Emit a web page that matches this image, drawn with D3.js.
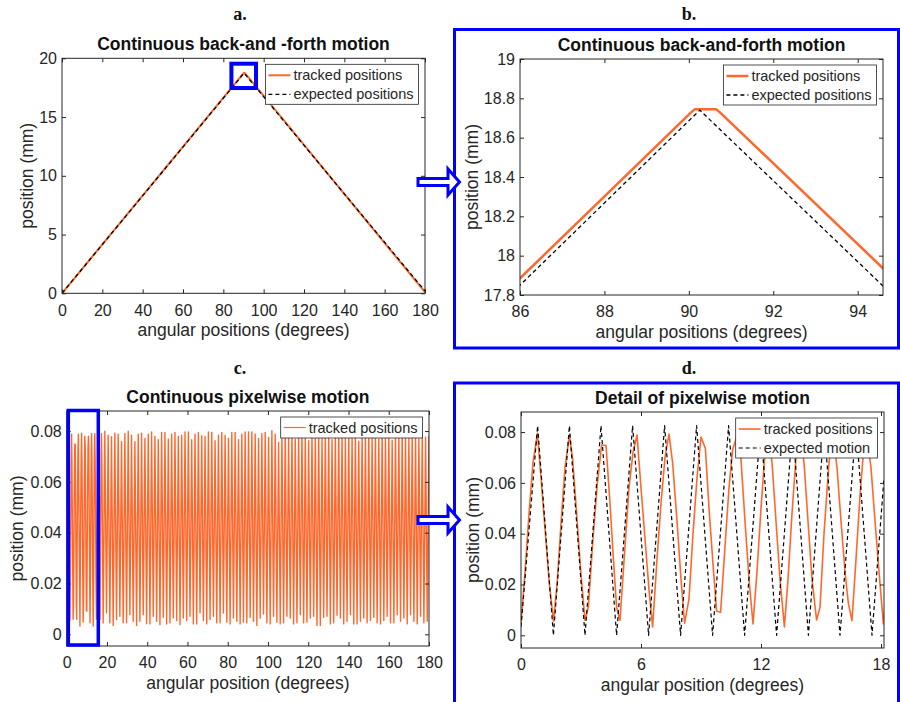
<!DOCTYPE html>
<html>
<head>
<meta charset="utf-8">
<script src="https://cdn.jsdelivr.net/npm/d3@7"></script>
<style>
  body { margin: 0; background: #fff; }
</style>
</head>
<body>
<svg id="fig" width="900" height="702"></svg>
<script>
// ---- data ----

// panel a / b : back-and-forth motion (degrees, mm)
const abExpDeg = [0, 86, 90.26, 94.6, 180];
const abExpPos = [0, 17.85, 18.74, 17.846, 0.2];
const abTrackDeg = [0, 86, 90.06, 90.14, 90.65, 90.73, 94.6, 180];
const abTrackPos = [0, 17.885, 18.73, 18.744, 18.744, 18.73, 17.936, 0.1];

// panel d : detail of tracked + expected pixelwise motion
const dTrackDeg = [0, 0.2, 0.42, 0.6, 0.82, 1.0, 1.2, 1.42, 1.63, 1.8, 2.0, 2.2, 2.42, 2.58, 2.8, 3.0, 3.2, 3.37,
  3.6, 3.82, 4.03, 4.25, 4.45, 4.62, 4.78, 4.95, 5.2, 5.4, 5.6, 5.8, 6.0, 6.2, 6.4, 6.58, 6.8, 7.0, 7.2, 7.4, 7.58,
  7.8, 8.0, 8.18, 8.4, 8.6, 8.8, 9.0, 9.22, 9.4, 9.6, 9.78, 9.98, 10.2, 10.4, 10.58, 10.78, 10.95, 11.2, 11.4, 11.6,
  11.8, 12.0, 12.2, 12.37, 12.55, 12.75, 12.95, 13.17, 13.35, 13.55, 13.75, 13.95, 14.15, 14.35, 14.55, 14.78, 14.95,
  15.15, 15.4, 15.6, 15.8, 16.0, 16.2, 16.37, 16.55, 16.75, 16.95, 17.1, 17.28, 17.5, 17.7, 17.9, 18.12];
const dTrackPos = [0.0046, 0.025, 0.05, 0.068, 0.0795, 0.062, 0.042, 0.02, 0.0055, 0.02, 0.044, 0.066, 0.0788, 0.0696,
  0.046, 0.024, 0.0059, 0.0112, 0.038, 0.06, 0.0749, 0.0747, 0.052, 0.03, 0.011, 0.0059, 0.035, 0.058, 0.072, 0.0788,
  0.058, 0.038, 0.018, 0.0033, 0.03, 0.052, 0.07, 0.0792, 0.068, 0.045, 0.022, 0.0048, 0.0143, 0.04, 0.062, 0.078,
  0.0735, 0.05, 0.028, 0.0095, 0.0091, 0.035, 0.058, 0.073, 0.078, 0.075, 0.045, 0.022, 0.0045, 0.025, 0.05, 0.072,
  0.079, 0.068, 0.045, 0.022, 0.0033, 0.022, 0.048, 0.07, 0.079, 0.068, 0.045, 0.022, 0.006, 0.011, 0.04, 0.068,
  0.079, 0.066, 0.045, 0.025, 0.0126, 0.0058, 0.03, 0.055, 0.07, 0.079, 0.066, 0.045, 0.025, 0.0045];
const dExpDeg = [0, 0.83, 1.62, 2.42, 3.2, 4.0, 4.78, 5.58, 6.38, 7.18, 7.98, 8.78, 9.58, 10.38, 11.18, 11.98,
  12.78, 13.58, 14.37, 15.16, 15.95, 16.75, 17.55, 18.15];
const dExpPos = [0.0033, 0.0825, 0, 0.0825, 0, 0.0825, 0, 0.0825, 0, 0.0825, 0, 0.0825, 0, 0.0825, 0, 0.0825,
  0, 0.0825, 0, 0.0825, 0, 0.0825, 0, 0.062];

// panel c : rest of the tracked run, peaks and troughs after 18 degrees
const cPeakDeg = [18.94, 20.6, 22.26, 23.92, 25.58, 27.24, 28.9, 30.56, 32.22, 33.88, 35.54, 37.2, 38.86, 40.52,
  42.18, 43.84, 45.5, 47.16, 48.82, 50.48, 52.14, 53.8, 55.46, 57.12, 58.78, 60.44, 62.1, 63.76, 65.42, 67.08,
  68.74, 70.4, 72.06, 73.72, 75.38, 77.04, 78.7, 80.36, 82.02, 83.68, 85.34, 87.0, 88.66, 90.32, 91.98, 93.64,
  95.3, 96.96, 98.62, 100.28, 101.94, 103.6, 105.26, 106.92, 108.58, 110.24, 111.9, 113.56, 115.22, 116.88,
  118.54, 120.2, 121.86, 123.52, 125.18, 126.84, 128.5, 130.16, 131.82, 133.48, 135.14, 136.8, 138.46, 140.12,
  141.78, 143.44, 145.1, 146.76, 148.42, 150.08, 151.74, 153.4, 155.06, 156.72, 158.38, 160.04, 161.7, 163.36,
  165.02, 166.68, 168.34, 170.0, 171.66, 173.32, 174.98, 176.64, 178.3, 179.96];
const cPeakPos = [0.0799, 0.0784, 0.0778, 0.0792, 0.0788, 0.0758, 0.0791, 0.0799, 0.0784, 0.0758, 0.0788, 0.0792,
  0.0771, 0.0788, 0.0797, 0.0779, 0.0766, 0.0795, 0.0795, 0.0768, 0.0788, 0.0795, 0.0779, 0.0784, 0.0797, 0.0797,
  0.0766, 0.0788, 0.0795, 0.0782, 0.0779, 0.0797, 0.0795, 0.0762, 0.0784, 0.0795, 0.0784, 0.0771, 0.0795, 0.0795,
  0.0766, 0.0788, 0.0797, 0.0797,
  0.0797, 0.0788, 0.0771, 0.0790, 0.0795, 0.0775, 0.0801, 0.0788, 0.0755, 0.0788,
  0.0792, 0.0779, 0.0796, 0.0768, 0.0788, 0.0799, 0.0781, 0.0762, 0.0793, 0.0786,
  0.0798, 0.0774, 0.0790, 0.0795, 0.0766, 0.0784, 0.0797, 0.0789, 0.0771, 0.0794,
  0.0783, 0.0799, 0.0760, 0.0791, 0.0787, 0.0796, 0.0777, 0.0792, 0.0769, 0.0798,
  0.0785, 0.0790, 0.0764, 0.0795, 0.0781, 0.0797, 0.0788, 0.0773, 0.0794, 0.0786,
  0.0770, 0.0785, 0.0776, 0.0782];
const cTroughDeg = [19.77, 21.43, 23.09, 24.75, 26.41, 28.07, 29.73, 31.39, 33.05, 34.71, 36.37, 38.03, 39.69,
  41.35, 43.01, 44.67, 46.33, 47.99, 49.65, 51.31, 52.97, 54.63, 56.29, 57.95, 59.61, 61.27, 62.93, 64.59, 66.25,
  67.91, 69.57, 71.23, 72.89, 74.55, 76.21, 77.87, 79.53, 81.19, 82.85, 84.51, 86.17, 87.83, 89.49, 91.15, 92.81,
  94.47, 96.13, 97.79, 99.45, 101.11, 102.77, 104.43, 106.09, 107.75, 109.41, 111.07, 112.73, 114.39, 116.05,
  117.71, 119.37, 121.03, 122.69, 124.35, 126.01, 127.67, 129.33, 130.99, 132.65, 134.31, 135.97, 137.63, 139.29,
  140.95, 142.61, 144.27, 145.93, 147.59, 149.25, 150.91, 152.57, 154.23, 155.89, 157.55, 159.21, 160.87, 162.53,
  164.19, 165.85, 167.51, 169.17, 170.83, 172.49, 174.15, 175.81, 177.47, 179.13];
const cTroughPos = [0.0085, 0.0045, 0.0035, 0.0058, 0.0071, 0.0045, 0.0045, 0.0077, 0.0051, 0.0035, 0.0051, 0.0077,
  0.0042, 0.0041, 0.0071, 0.0051, 0.0038, 0.0067, 0.0041, 0.0045, 0.0064, 0.0054, 0.0038, 0.0064, 0.0054, 0.0071,
  0.0041, 0.0041, 0.0084, 0.0054, 0.0041, 0.0058, 0.0071, 0.0045, 0.0045, 0.0084, 0.0048, 0.0041, 0.0064, 0.0051,
  0.0041, 0.0048,
  0.0045, 0.0067, 0.0051, 0.0035, 0.0064, 0.0080, 0.0045, 0.0041, 0.0071, 0.0048,
  0.0041, 0.0045, 0.0071, 0.0064, 0.0041, 0.0045, 0.0077, 0.0045, 0.0048, 0.0064,
  0.0071, 0.0035, 0.0035, 0.0067, 0.0071, 0.0041, 0.0045, 0.0075, 0.0064, 0.0041,
  0.0051, 0.0077, 0.0041, 0.0041, 0.0051, 0.0064, 0.0045, 0.0054, 0.0067, 0.0045,
  0.0041, 0.0054, 0.0071, 0.0045, 0.0045, 0.0077, 0.0051, 0.0064, 0.0041, 0.0077,
  0.0051, 0.0041, 0.0071, 0.0045, 0.0051];

// tick values
const aXTicks = [0, 20, 40, 60, 80, 100, 120, 140, 160, 180];
const aYTicks = [0, 5, 10, 15, 20];
const bXTicks = [86, 88, 90, 92, 94];
const bYTicks = [17.8, 18, 18.2, 18.4, 18.6, 18.8, 19];
const cXTicks = [0, 20, 40, 60, 80, 100, 120, 140, 160, 180];
const pixYTicks = [0, 0.02, 0.04, 0.06, 0.08];
const dXTicks = [0, 6, 12, 18];

// ---- build series ----
const zip = (xs, ys) => xs.map((v, i) => [v, ys[i]]);
const abExpected = zip(abExpDeg, abExpPos);
const abTracked = zip(abTrackDeg, abTrackPos);
const dExpected = zip(dExpDeg, dExpPos);
const pixTracked = zip(dTrackDeg, dTrackPos);
cPeakDeg.forEach((deg, i) => {
  pixTracked.push([deg, cPeakPos[i]]);
  if (i < cTroughDeg.length) pixTracked.push([cTroughDeg[i], cTroughPos[i]]);
});

// ---- drawing ----
const FONT = "'Liberation Sans', Arial, Helvetica, sans-serif";
const SERIF = "'Liberation Serif', 'Times New Roman', serif";
const ORANGE = "#ff682d";
const BLUE = "#0000ff";
const INK = "#262626";
const svg = d3.select("#fig");

function drawPanel(p) {
  const x = d3.scaleLinear().domain(p.xDomain).range([p.left, p.right]);
  const y = d3.scaleLinear().domain(p.yDomain).range([p.bottom, p.top]);
  const w = p.right - p.left, h = p.bottom - p.top;
  const g = svg.append("g");

  svg.append("clipPath").attr("id", "clip-" + p.id)
    .append("rect").attr("x", p.left).attr("y", p.top).attr("width", w).attr("height", h);

  const line = d3.line().x(d => x(d[0])).y(d => y(d[1]));
  p.series.forEach(s => {
    g.append("path").datum(s.data)
      .attr("clip-path", "url(#clip-" + p.id + ")")
      .attr("d", line)
      .attr("fill", "none")
      .attr("stroke", s.color)
      .attr("stroke-width", s.width)
      .attr("stroke-dasharray", s.dash || null)
      .attr("stroke-linejoin", "round");
  });

  const fmt = d3.format("~g");
  const styleAxis = a => a.attr("font-size", 16).attr("font-family", FONT).attr("color", INK)
    .call(s => s.select(".domain").remove());

  g.append("g").attr("transform", `translate(0,${p.bottom})`)
    .call(d3.axisBottom(x).tickValues(p.xTicks).tickFormat(fmt).tickSizeInner(-4).tickSizeOuter(0).tickPadding(11))
    .call(styleAxis);
  g.append("g").attr("transform", `translate(0,${p.top})`)
    .call(d3.axisTop(x).tickValues(p.xTicks).tickFormat("").tickSizeInner(-4).tickSizeOuter(0))
    .call(styleAxis);
  g.append("g").attr("transform", `translate(${p.left},0)`)
    .call(d3.axisLeft(y).tickValues(p.yTicks).tickFormat(fmt).tickSizeInner(-4).tickSizeOuter(0).tickPadding(5))
    .call(styleAxis);
  g.append("g").attr("transform", `translate(${p.right},0)`)
    .call(d3.axisRight(y).tickValues(p.yTicks).tickFormat("").tickSizeInner(-4).tickSizeOuter(0))
    .call(styleAxis);

  g.append("rect").attr("x", p.left).attr("y", p.top).attr("width", w).attr("height", h)
    .attr("fill", "none").attr("stroke", INK).attr("stroke-width", 1);

  // titles and labels
  const cx = (p.left + p.right) / 2;
  g.append("text").attr("x", cx).attr("y", p.top - 8).attr("text-anchor", "middle")
    .attr("font-family", FONT).attr("font-weight", "bold").attr("font-size", 17.5).attr("fill", "#111")
    .text(p.title);
  g.append("text").attr("x", cx).attr("y", p.bottom + 43).attr("text-anchor", "middle")
    .attr("font-family", FONT).attr("font-size", 17.5).attr("fill", INK)
    .text(p.xLabel);
  g.append("text").attr("transform", `translate(${p.left - p.yLabelOff},${(p.top + p.bottom) / 2}) rotate(-90)`)
    .attr("text-anchor", "middle")
    .attr("font-family", FONT).attr("font-size", 17.5).attr("fill", INK)
    .text("position (mm)");
  svg.append("text").attr("x", p.tagX).attr("y", p.tagY).attr("text-anchor", "middle")
    .attr("font-family", SERIF).attr("font-weight", "bold").attr("font-size", 18).attr("fill", "#111")
    .text(p.tag);

  // highlight box (zoomed region)
  if (p.zoomBox) {
    const zb = p.zoomBox;
    svg.append("rect")
      .attr("x", x(zb.x0)).attr("y", y(zb.y1))
      .attr("width", x(zb.x1) - x(zb.x0)).attr("height", y(zb.y0) - y(zb.y1))
      .attr("fill", "none").attr("stroke", BLUE).attr("stroke-width", zb.width);
  }

  // legend
  const lg = svg.append("g");
  const box = lg.append("rect").attr("fill", "#fff").attr("stroke", INK).attr("stroke-width", 0.8);
  const top = p.top + 6;
  let maxLen = 0;
  const texts = p.legend.map((s, i) => {
    const t = lg.append("text").attr("y", top + 11 + i * 19 + 5)
      .attr("font-family", FONT).attr("font-size", 14.5).attr("fill", INK).text(s.label);
    maxLen = Math.max(maxLen, t.node().getComputedTextLength());
    return t;
  });
  const lw = 28 + maxLen + 5;
  const lh = p.legend.length === 1 ? 21 : 40;
  const left = p.right - 6.5 - lw;
  box.attr("x", left).attr("y", top).attr("width", lw).attr("height", lh);
  texts.forEach(t => t.attr("x", left + 28));
  p.legend.forEach((s, i) => {
    const ly = top + 11 + i * 19 - (p.legend.length === 1 ? 0.5 : 0);
    lg.append("line").attr("x1", left + 3).attr("x2", left + 25).attr("y1", ly).attr("y2", ly)
      .attr("stroke", s.color).attr("stroke-width", s.width).attr("stroke-dasharray", s.dash || null);
  });
}

drawPanel({
  id: "a", tag: "a.", tagX: 240, tagY: 20,
  left: 62, right: 425, top: 58.3, bottom: 293.3,
  xDomain: [0, 180], yDomain: [0, 20], xTicks: aXTicks, yTicks: aYTicks,
  title: "Continuous back-and -forth motion", xLabel: "angular positions (degrees)", yLabelOff: 29,
  series: [
    { data: abTracked, color: ORANGE, width: 2 },
    { data: abExpected, color: "#000", width: 1.3, dash: "4,3" }
  ],
  legend: [
    { label: "tracked positions", color: ORANGE, width: 2 },
    { label: "expected positions", color: "#000", width: 1.3, dash: "4,3" }
  ],
  zoomBox: { x0: 84, x1: 96.2, y0: 17.47, y1: 19.54, width: 4 }
});

drawPanel({
  id: "b", tag: "b.", tagX: 689, tagY: 20,
  left: 520, right: 883, top: 59, bottom: 295,
  xDomain: [86, 94.6], yDomain: [17.8, 19], xTicks: bXTicks, yTicks: bYTicks,
  title: "Continuous back-and-forth motion", xLabel: "angular positions (degrees)", yLabelOff: 42,
  series: [
    { data: abTracked, color: ORANGE, width: 2.5 },
    { data: abExpected, color: "#000", width: 1.3, dash: "4,3" }
  ],
  legend: [
    { label: "tracked positions", color: ORANGE, width: 2.5 },
    { label: "expected positions", color: "#000", width: 1.3, dash: "4,3" }
  ]
});

drawPanel({
  id: "c", tag: "c.", tagX: 240, tagY: 374,
  left: 66.7, right: 429, top: 411, bottom: 646,
  xDomain: [0, 180], yDomain: [-0.0046, 0.0879], xTicks: cXTicks, yTicks: pixYTicks,
  title: "Continuous pixelwise motion", xLabel: "angular position (degrees)", yLabelOff: 44,
  series: [
    { data: pixTracked, color: ORANGE, width: 1.4 }
  ],
  legend: [
    { label: "tracked positions", color: ORANGE, width: 1.2 }
  ],
  zoomBox: { x0: 0.8, x1: 15.7, y0: -0.0042, y1: 0.0881, width: 3.5 }
});

drawPanel({
  id: "d", tag: "d.", tagX: 689, tagY: 374,
  left: 521, right: 884, top: 412, bottom: 648,
  xDomain: [0, 18.15], yDomain: [-0.005, 0.0879], xTicks: dXTicks, yTicks: pixYTicks,
  title: "Detail of pixelwise motion", xLabel: "angular position (degrees)", yLabelOff: 42,
  series: [
    { data: pixTracked, color: ORANGE, width: 1.6 },
    { data: dExpected, color: "#000", width: 1.2, dash: "4,3" }
  ],
  legend: [
    { label: "tracked positions", color: ORANGE, width: 1.6 },
    { label: "expected motion", color: "#000", width: 1.2, dash: "4,3" }
  ]
});

// frames around the zoomed panels
[[454.5, 29.5, 898.5, 348], [454.5, 383, 898.5, 720]].forEach(f => {
  svg.append("rect").attr("x", f[0]).attr("y", f[1]).attr("width", f[2] - f[0]).attr("height", f[3] - f[1])
    .attr("fill", "none").attr("stroke", BLUE).attr("stroke-width", 3);
});

// open block arrows pointing to the zoomed panels
[182, 520].forEach(cy => {
  const pts = [[418, cy - 3.5], [448, cy - 3.5], [448, cy - 13], [459.5, cy], [448, cy + 13], [448, cy + 3.5], [418, cy + 3.5]];
  svg.append("path").attr("d", d3.line()(pts) + "Z")
    .attr("fill", "#fff").attr("stroke", BLUE).attr("stroke-width", 3).attr("stroke-linejoin", "miter");
});
</script>
</body>
</html>
